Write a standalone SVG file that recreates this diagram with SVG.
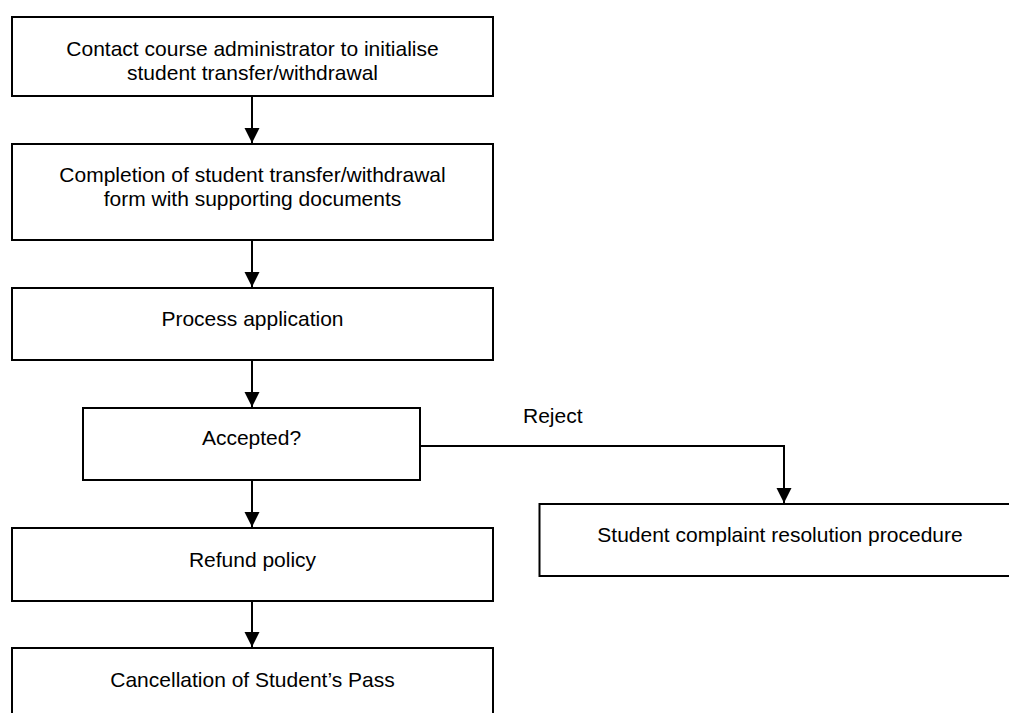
<svg xmlns="http://www.w3.org/2000/svg" width="1009" height="713" viewBox="0 0 1009 713">
  <style>
    .box { fill: #ffffff; stroke: #000000; stroke-width: 2; }
    .lbl { font-family: "Liberation Sans", Arial, sans-serif; font-size: 21px; fill: #000000; text-anchor: middle; }
    .conn { fill: none; stroke: #000000; stroke-width: 2; }
  </style>
  <defs>
    <marker id="arrow" markerUnits="userSpaceOnUse" markerWidth="16" markerHeight="16" viewBox="0 0 16 16" refX="15" refY="8" orient="auto">
      <path d="M0,0.5 L15,8 L0,15.5 Z" fill="#000000"/>
    </marker>
  </defs>
  <rect width="1009" height="713" fill="#ffffff"/>

  <g id="n1">
    <rect class="box" x="12" y="17" width="481" height="79"/>
    <text class="lbl" x="252.5" y="56">Contact course administrator to initialise</text>
    <text class="lbl" x="252.5" y="80">student transfer/withdrawal</text>
  </g>
  <g id="n2">
    <rect class="box" x="12" y="144" width="481" height="96"/>
    <text class="lbl" x="252.5" y="182">Completion of student transfer/withdrawal</text>
    <text class="lbl" x="252.5" y="206">form with supporting documents</text>
  </g>
  <g id="n3">
    <rect class="box" x="12" y="288" width="481" height="72"/>
    <text class="lbl" x="252.5" y="326">Process application</text>
  </g>
  <g id="n4">
    <rect class="box" x="83" y="408" width="337" height="72"/>
    <text class="lbl" x="251.5" y="445">Accepted?</text>
  </g>
  <g id="n5">
    <rect class="box" x="12" y="528" width="481" height="73"/>
    <text class="lbl" x="252.5" y="567">Refund policy</text>
  </g>
  <g id="n6">
    <rect class="box" x="12" y="648" width="481" height="80"/>
    <text class="lbl" x="252.5" y="687">Cancellation of Student’s Pass</text>
  </g>
  <g id="n7">
    <rect class="box" x="539.5" y="504" width="481" height="72"/>
    <text class="lbl" x="780" y="542">Student complaint resolution procedure</text>
  </g>

  <g id="connectors">
    <line class="conn" x1="252" y1="96" x2="252" y2="143" marker-end="url(#arrow)"/>
    <line class="conn" x1="252" y1="240" x2="252" y2="287" marker-end="url(#arrow)"/>
    <line class="conn" x1="252" y1="360" x2="252" y2="407" marker-end="url(#arrow)"/>
    <line class="conn" x1="252" y1="480" x2="252" y2="527" marker-end="url(#arrow)"/>
    <line class="conn" x1="252" y1="601" x2="252" y2="647" marker-end="url(#arrow)"/>
    <polyline class="conn" points="420,446 784,446 784,503" marker-end="url(#arrow)"/>
    <text class="lbl" x="523" y="423" style="text-anchor:start">Reject</text>
  </g>
</svg>
